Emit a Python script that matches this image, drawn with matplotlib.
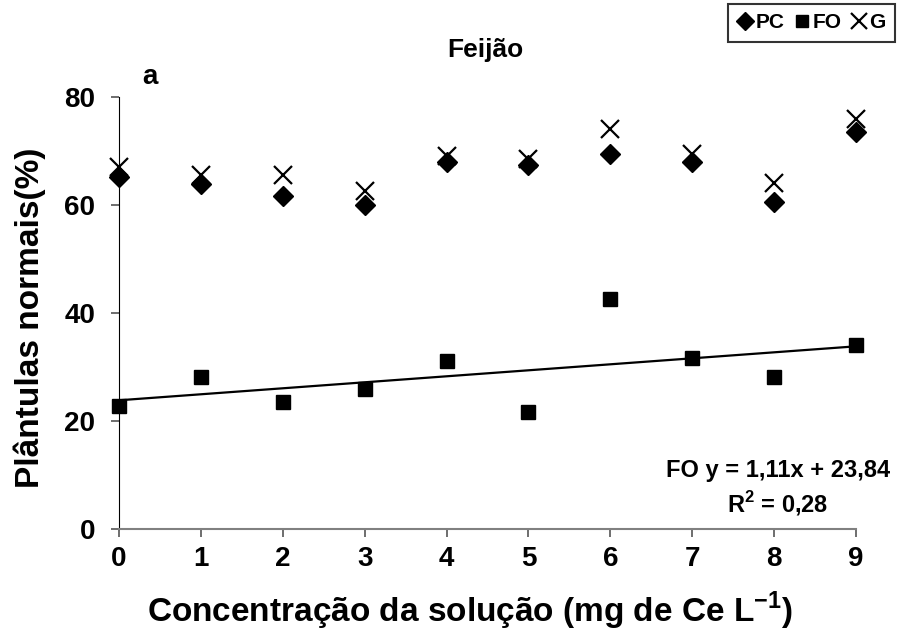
import numpy as np
import matplotlib.pyplot as plt

plt.rcParams['font.family'] = ['Liberation Sans', 'DejaVu Sans']
plt.rcParams['font.weight'] = 'bold'
plt.rcParams['mathtext.fontset'] = 'custom'
plt.rcParams['mathtext.bf'] = 'Liberation Sans:bold'
plt.rcParams['mathtext.rm'] = 'Liberation Sans:bold'

conc = [0, 1, 2, 3, 4, 5, 6, 7, 8, 9]
pc = [65.2, 63.8, 61.6, 60.0, 67.9, 67.4, 69.5, 67.9, 60.5, 73.5]
fo = [22.7, 28.1, 23.6, 26.0, 31.1, 21.6, 42.6, 31.6, 28.1, 34.1]
g = [67.0, 65.6, 65.6, 62.6, 69.0, 68.5, 74.0, 69.5, 64.0, 76.0]

# linear fit for FO as reported
slope, intercept = 1.11, 23.84

fig = plt.figure(figsize=(8.98, 6.38), dpi=100)
ax = fig.add_axes([0.1325, 0.1708, 0.8207, 0.6772])

ax.plot(conc, pc, 'D', color='black', ms=10, clip_on=False, label='PC')
ax.plot(conc, fo, 's', color='black', ms=9.5, clip_on=False, label='FO')
ax.plot(conc, g, 'x', color='black', ms=12.5, mew=1.6, clip_on=False, label='G')
xs = np.array([conc[0], conc[-1]])
ax.plot(xs, slope * xs + intercept, color='black', lw=1.6)

ax.set_xlim(0, 9)
ax.set_ylim(0, 80)
ax.set_xticks(conc)
ax.set_yticks([0, 20, 40, 60, 80])
ax.tick_params(labelsize=20, length=6, width=1.2, color='#555555')
ax.tick_params(axis='y', pad=11)
ax.tick_params(axis='x', pad=6)
for s in ['top', 'right']:
    ax.spines[s].set_visible(False)
ax.spines['left'].set_color('black')
ax.spines['bottom'].set_color('#808080')
ax.spines['bottom'].set_linewidth(1.5)

fig.text(470 / 898, 1 - 622 / 638, 'Concentração da solução (mg de Ce L$^{-1}$)',
         fontsize=24, fontweight='bold', ha='center', va='baseline')
fig.text(30 / 898, 1 - 318 / 638, 'Plântulas normais(%)', fontsize=24, fontweight='bold',
         rotation=90, ha='center', va='center')

fig.text(485 / 898, 1 - 50 / 638, 'Feijão', fontsize=19, fontweight='bold', ha='center', va='center')
fig.text(150 / 898, 1 - 84 / 638, 'a', fontsize=20, fontweight='bold', ha='center', va='baseline')

fig.text(778 / 898, 1 - 477 / 638, 'FO y = 1,11x + 23,84', fontsize=17, fontweight='bold',
         ha='center', va='baseline')
fig.text(778 / 898, 1 - 512 / 638, 'R$^{2}$ = 0,28', fontsize=17, fontweight='bold',
         ha='center', va='baseline')

leg = fig.legend(loc='upper right', bbox_to_anchor=(895 / 898, 1 - 4 / 638), ncol=3,
                 prop={'weight': 'bold', 'size': 15}, frameon=True, fancybox=False,
                 handlelength=0.7, handletextpad=0.15, columnspacing=0.5, borderpad=0.45,
                 borderaxespad=0.0, markerscale=0.9)
leg.get_frame().set_edgecolor('black')
leg.get_frame().set_linewidth(1.5)

fig.savefig('out.png', dpi=100)
